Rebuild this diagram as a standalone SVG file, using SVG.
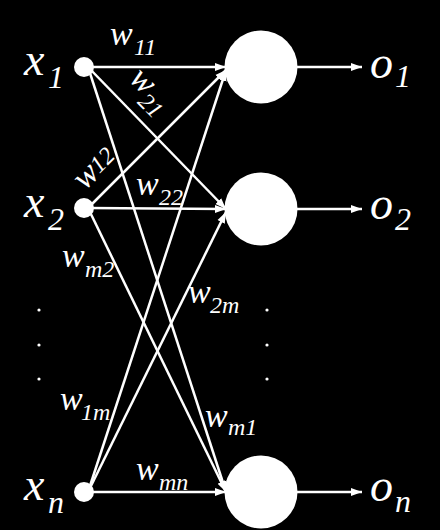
<svg xmlns="http://www.w3.org/2000/svg" width="440" height="530" viewBox="0 0 440 530">
<defs>
<marker id="ah" markerUnits="userSpaceOnUse" markerWidth="12" markerHeight="10" refX="11" refY="5" orient="auto">
<path d="M0,1 L11,5 L0,9 Z" fill="#fff"/>
</marker>
</defs>
<rect width="440" height="530" fill="#000"/>
<g id="connectors" stroke="#fff" stroke-width="2.5" fill="none">
<line x1="88" y1="67" x2="226" y2="67" marker-end="url(#ah)"/>
<line x1="88" y1="67" x2="226" y2="209" marker-end="url(#ah)"/>
<line x1="88" y1="67" x2="226" y2="492" marker-end="url(#ah)"/>
<line x1="88" y1="208" x2="226" y2="70" marker-end="url(#ah)"/>
<line x1="88" y1="208" x2="226" y2="209" marker-end="url(#ah)"/>
<line x1="88" y1="208" x2="226" y2="492" marker-end="url(#ah)"/>
<line x1="88" y1="492" x2="226" y2="70" marker-end="url(#ah)"/>
<line x1="88" y1="492" x2="226" y2="212" marker-end="url(#ah)"/>
<line x1="88" y1="492" x2="226" y2="492" marker-end="url(#ah)"/>
<line x1="297" y1="67" x2="362" y2="67" marker-end="url(#ah)"/>
<line x1="297" y1="209" x2="362" y2="209" marker-end="url(#ah)"/>
<line x1="297" y1="492" x2="362" y2="492" marker-end="url(#ah)"/>
</g>
<g id="x1"><circle fill="#fff" cx="84" cy="67" r="10"/><text font-family="Liberation Serif" font-style="italic" font-size="46" fill="#fff" x="24" y="75">x<tspan x="48" y="88" font-size="32">1</tspan></text></g>
<g id="x2"><circle fill="#fff" cx="84" cy="208" r="10"/><text font-family="Liberation Serif" font-style="italic" font-size="46" fill="#fff" x="24" y="217">x<tspan x="48" y="230" font-size="32">2</tspan></text></g>
<g id="xn"><circle fill="#fff" cx="84" cy="492" r="10"/><text font-family="Liberation Serif" font-style="italic" font-size="46" fill="#fff" x="24" y="500">x<tspan x="48" y="513" font-size="32">n</tspan></text></g>
<g id="o1"><circle fill="#fff" cx="261" cy="67" r="36.5"/><text font-family="Liberation Serif" font-style="italic" font-size="46" fill="#fff" x="370" y="78">o<tspan x="395" y="87" font-size="32">1</tspan></text></g>
<g id="o2"><circle fill="#fff" cx="261" cy="209" r="36.5"/><text font-family="Liberation Serif" font-style="italic" font-size="46" fill="#fff" x="370" y="219">o<tspan x="395" y="230" font-size="32">2</tspan></text></g>
<g id="on"><circle fill="#fff" cx="261" cy="492" r="36.5"/><text font-family="Liberation Serif" font-style="italic" font-size="46" fill="#fff" x="370" y="501">o<tspan x="395" y="512" font-size="32">n</tspan></text></g>
<g id="weights" font-family="Liberation Serif" font-style="italic" fill="#fff">
<text font-family="Liberation Serif" font-style="italic" font-size="34" x="110" y="45">w<tspan x="134" y="55" font-size="24">11</tspan></text>
<text font-family="Liberation Serif" font-style="italic" font-size="34" transform="translate(128,80) rotate(45)" x="0" y="0">w<tspan x="22" y="10" font-size="24">21</tspan></text>
<text font-family="Liberation Serif" font-style="italic" font-size="34" transform="translate(85,191) rotate(-45)" x="0" y="0">w<tspan x="22" y="-2" font-size="24">12</tspan></text>
<text font-family="Liberation Serif" font-style="italic" font-size="34" x="136" y="195">w<tspan x="159" y="205" font-size="24">22</tspan></text>
<text font-family="Liberation Serif" font-style="italic" font-size="34" x="62" y="267">w<tspan x="85" y="277" font-size="24">m2</tspan></text>
<text font-family="Liberation Serif" font-style="italic" font-size="34" x="188" y="303">w<tspan x="210" y="313" font-size="24">2m</tspan></text>
<text font-family="Liberation Serif" font-style="italic" font-size="34" x="60" y="410">w<tspan x="81" y="420" font-size="24">1m</tspan></text>
<text font-family="Liberation Serif" font-style="italic" font-size="34" x="205" y="427">w<tspan x="228" y="435" font-size="24">m1</tspan></text>
<text font-family="Liberation Serif" font-style="italic" font-size="34" x="136" y="480">w<tspan x="159" y="490" font-size="24">mn</tspan></text>
</g>
<g id="ellipsis" fill="#fff">
<circle cx="39" cy="310" r="1.6"/><circle cx="39" cy="345" r="1.6"/><circle cx="39" cy="379" r="1.6"/>
<circle cx="267" cy="310" r="1.6"/><circle cx="267" cy="345" r="1.6"/><circle cx="267" cy="379" r="1.6"/>
</g>
</svg>
